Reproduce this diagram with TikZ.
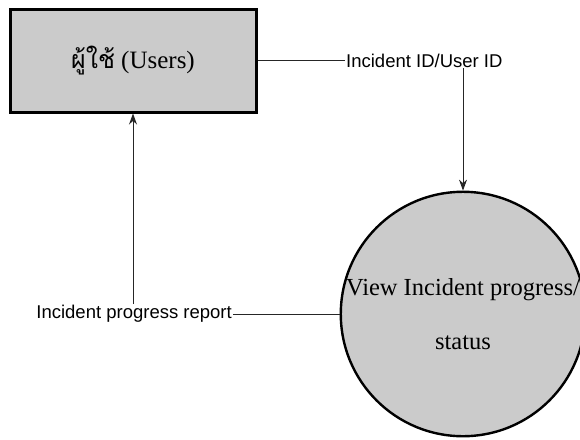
\documentclass[tikz,border=0pt]{standalone}
\usepackage{fontspec}
\setmainfont{Liberation Serif}
\newfontfamily\labfont{Liberation Sans}
\newfontfamily\thaifont[Script=Thai]{Loma}
\usetikzlibrary{arrows.meta}
\definecolor{boxgray}{RGB}{203,203,203}
\tikzset{
  entity/.style={draw=black, line width=3pt, fill=boxgray, minimum width=246pt, minimum height=103pt, inner sep=0pt, font=\fontsize{25}{30}\selectfont},
  process/.style={circle, draw=black, line width=2.4pt, fill=boxgray, minimum size=240pt, inner sep=0pt, align=center, font=\fontsize{24.5}{54}\selectfont},
  flowlabel/.style={inner sep=1pt, font=\labfont\fontsize{18.5}{22}\selectfont},
  flow/.style={line width=0.9pt, draw=black!85},
  flowarrow/.style={flow, -{Stealth[length=11pt,width=8pt]}}
}
\begin{document}
\begin{tikzpicture}[x=1pt,y=-1pt]
\useasboundingbox (0,0) rectangle (580,439);
\node[entity] (users) at (133,60.5) {{\thaifont ผู้ใช้} (Users)};
\node[flowlabel, anchor=west] (lbl1) at (345,60.5) {Incident ID/User ID};
\node[process] (proc) at (463,314) {View Incident progress/\\status};
\node[flowlabel, anchor=east] (lbl2) at (233,314) {Incident progress report};
\draw[flow] (users.east) -- (lbl1.west);
\draw[flowarrow] (lbl1.south -| proc.north) -- (proc.north);
\draw[flow] (lbl2.east) -- (proc.west);
\draw[flowarrow] (lbl2.north -| users.south) -- (users.south);
\end{tikzpicture}
\end{document}
